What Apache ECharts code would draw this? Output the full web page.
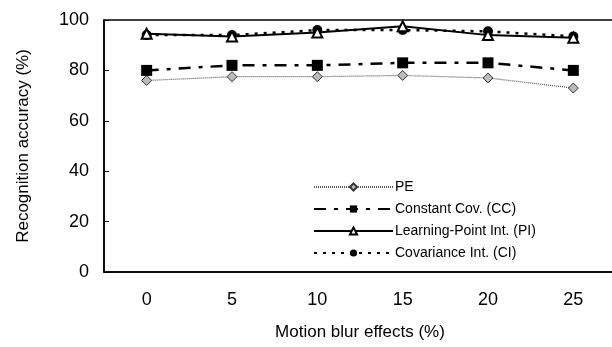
<!DOCTYPE html>
<html><head><meta charset="utf-8">
<script src="https://cdn.jsdelivr.net/npm/echarts@6/dist/echarts.min.js"></script>
<style>html,body{margin:0;padding:0;background:#fff}#c{width:612px;height:347px}</style>
</head><body><div id="c"></div>
<script>
const categories = ['0','5','10','15','20','25'];
const peValues = [76, 77.5, 77.5, 78, 77, 73];
const ccValues = [80, 82, 82, 83, 83, 80];
const piValues = [94.5, 93.5, 95, 97.5, 94, 93];
const ciValues = [94, 94, 96, 96, 95.5, 93.5];
const yTicks = [0, 20, 40, 60, 80, 100];

const chart = echarts.init(document.getElementById('c'));
const font = 'Liberation Sans, Arial, sans-serif';
chart.setOption({
  animation: false,
  backgroundColor: '#fff',
  grid: { left: 104, top: 20, width: 512, height: 252, outerBoundsMode: 'none', containLabel: false,
          show: true, borderColor: '#000', borderWidth: 1.5, backgroundColor: 'transparent' },
  xAxis: {
    type: 'category', data: categories, boundaryGap: true,
    name: 'Motion blur effects (%)', nameLocation: 'middle', nameGap: 52,
    nameTextStyle: { fontFamily: font, fontSize: 17, color: '#000' },
    axisLine: { lineStyle: { color: '#000', width: 1.5 } },
    axisTick: { inside: true, length: 4, lineStyle: { color: '#000' } },
    axisLabel: { fontFamily: font, fontSize: 18, color: '#000', margin: 19 }
  },
  yAxis: {
    type: 'value', min: yTicks[0], max: yTicks[yTicks.length-1], interval: 20,
    name: 'Recognition accuracy (%)', nameLocation: 'middle', nameGap: 72,
    nameTextStyle: { fontFamily: font, fontSize: 17, color: '#000' },
    axisLine: { show: true, lineStyle: { color: '#000', width: 1.5 } },
    axisTick: { show: true, inside: true, length: 5, lineStyle: { color: '#000' } },
    splitLine: { show: false },
    axisLabel: { fontFamily: font, fontSize: 18, color: '#000', margin: 15 }
  },
  legend: {
    orient: 'vertical', left: 308, top: 175, itemWidth: 79, itemHeight: 9, itemGap: 8,
    textStyle: { fontFamily: font, fontSize: 14, color: '#000', padding: [0,0,0,-3] },
    data: ['PE','Constant Cov. (CC)','Learning-Point Int. (PI)','Covariance Int. (CI)']
  },
  series: [
    { name: 'PE', type: 'line', data: peValues, symbol: 'diamond', symbolSize: 10,
      lineStyle: { color: '#555', width: 1.2, type: [1,1] },
      itemStyle: { color: '#bbb', borderColor: '#333', borderWidth: 1 } },
    { name: 'Constant Cov. (CC)', type: 'line', data: ccValues, symbol: 'rect', symbolSize: 11,
      lineStyle: { color: '#000', width: 2.5, type: [12,8,4,8] },
      itemStyle: { color: '#000' } },
    { name: 'Covariance Int. (CI)', type: 'line', data: ciValues, symbol: 'circle', symbolSize: 10,
      lineStyle: { color: '#000', width: 2.5, type: [3,6] },
      itemStyle: { color: '#000' } },
    { name: 'Learning-Point Int. (PI)', type: 'line', data: piValues, symbol: 'triangle', symbolSize: 10,
      lineStyle: { color: '#000', width: 2 },
      itemStyle: { color: '#fff', borderColor: '#000', borderWidth: 2 } }
  ]
});
</script></body></html>
